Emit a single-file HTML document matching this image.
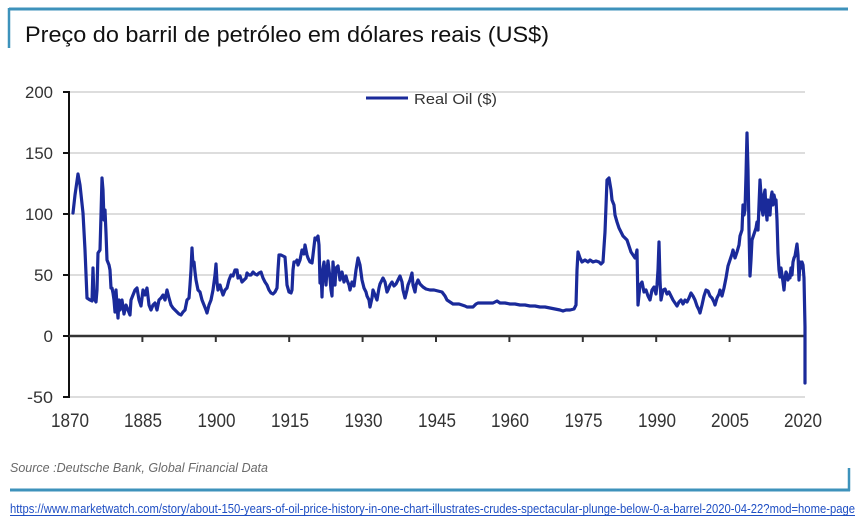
<!DOCTYPE html>
<html><head><meta charset="utf-8"><style>
html,body{margin:0;padding:0;background:#fff;}
svg{display:block;}
</style></head><body>
<svg width="861" height="523" viewBox="0 0 861 523" xmlns="http://www.w3.org/2000/svg">
<rect width="861" height="523" fill="#fff"/>
<!-- frame -->
<line x1="9" y1="9" x2="848" y2="9" stroke="#3d92bb" stroke-width="3"/>
<line x1="9" y1="8" x2="9" y2="48" stroke="#3d92bb" stroke-width="2.5"/>
<line x1="10" y1="490" x2="850" y2="490" stroke="#3d92bb" stroke-width="3"/>
<line x1="849" y1="468" x2="849" y2="491" stroke="#3d92bb" stroke-width="2.5"/>
<!-- title -->
<text x="25" y="42" font-family="Liberation Sans, sans-serif" font-size="22" fill="#111" textLength="524" lengthAdjust="spacingAndGlyphs">Preço do barril de petróleo em dólares reais (US$)</text>
<!-- gridlines -->
<g stroke="#dddddd" stroke-width="2">
<line x1="70" y1="92" x2="805" y2="92"/>
<line x1="70" y1="153" x2="805" y2="153"/>
<line x1="70" y1="214" x2="805" y2="214"/>
<line x1="70" y1="275" x2="805" y2="275"/>
<line x1="70" y1="397" x2="805" y2="397"/>
</g>
<!-- legend -->
<line x1="366" y1="98" x2="408" y2="98" stroke="#1a2a9a" stroke-width="3"/>
<text x="414" y="104" font-family="Liberation Sans, sans-serif" font-size="15" fill="#333" textLength="83" lengthAdjust="spacingAndGlyphs">Real Oil ($)</text>
<!-- axes -->
<line x1="69" y1="91" x2="69" y2="398" stroke="#111" stroke-width="2"/>
<g stroke="#111" stroke-width="2">
<line x1="63" y1="92" x2="69" y2="92"/>
<line x1="63" y1="153" x2="69" y2="153"/>
<line x1="63" y1="214" x2="69" y2="214"/>
<line x1="63" y1="275" x2="69" y2="275"/>
<line x1="63" y1="336" x2="69" y2="336"/>
<line x1="63" y1="397" x2="69" y2="397"/>
</g>
<line x1="69" y1="336" x2="805" y2="336" stroke="#333" stroke-width="2.5"/>
<g stroke="#333" stroke-width="2">
<line x1="142.4" y1="336" x2="142.4" y2="342"/>
<line x1="215.8" y1="336" x2="215.8" y2="342"/>
<line x1="289.2" y1="336" x2="289.2" y2="342"/>
<line x1="362.6" y1="336" x2="362.6" y2="342"/>
<line x1="436" y1="336" x2="436" y2="342"/>
<line x1="509.4" y1="336" x2="509.4" y2="342"/>
<line x1="582.8" y1="336" x2="582.8" y2="342"/>
<line x1="656.2" y1="336" x2="656.2" y2="342"/>
<line x1="729.6" y1="336" x2="729.6" y2="342"/>
</g>
<!-- y labels -->
<g font-family="Liberation Sans, sans-serif" font-size="17" fill="#333" text-anchor="end">
<text x="53" y="98" textLength="28" lengthAdjust="spacingAndGlyphs">200</text>
<text x="53" y="159" textLength="28" lengthAdjust="spacingAndGlyphs">150</text>
<text x="53" y="220" textLength="28" lengthAdjust="spacingAndGlyphs">100</text>
<text x="53" y="281" textLength="19" lengthAdjust="spacingAndGlyphs">50</text>
<text x="53" y="342">0</text>
<text x="53" y="403" textLength="26" lengthAdjust="spacingAndGlyphs">-50</text>
</g>
<!-- x labels -->
<g font-family="Liberation Sans, sans-serif" font-size="19" fill="#333" text-anchor="middle">
<text x="70" y="427" textLength="38" lengthAdjust="spacingAndGlyphs">1870</text>
<text x="143" y="427" textLength="38" lengthAdjust="spacingAndGlyphs">1885</text>
<text x="216.5" y="427" textLength="38" lengthAdjust="spacingAndGlyphs">1900</text>
<text x="290" y="427" textLength="38" lengthAdjust="spacingAndGlyphs">1915</text>
<text x="363.5" y="427" textLength="38" lengthAdjust="spacingAndGlyphs">1930</text>
<text x="437" y="427" textLength="38" lengthAdjust="spacingAndGlyphs">1945</text>
<text x="510" y="427" textLength="38" lengthAdjust="spacingAndGlyphs">1960</text>
<text x="583.5" y="427" textLength="38" lengthAdjust="spacingAndGlyphs">1975</text>
<text x="657" y="427" textLength="38" lengthAdjust="spacingAndGlyphs">1990</text>
<text x="730" y="427" textLength="38" lengthAdjust="spacingAndGlyphs">2005</text>
<text x="803" y="427" textLength="38" lengthAdjust="spacingAndGlyphs">2020</text>
</g>
<!-- series -->
<polyline fill="none" stroke="#1a2a9a" stroke-width="3.2" stroke-linejoin="round" stroke-linecap="round" points="
73,213 75,195 78,174 80,185 83,213 85,250 87,298 90,300 92,301 93,268 94,298 96,302 97,290 98,253 100,250 101,215 102,178 103,190 104,220 105,210 106,233 107,260 109,265 110,270 111,288 112,288 113,293 114,300 115,312 116,290 117,305 118,318 119,300 120,310 122,300 124,314 126,305 128,310 130,315 131,300 133,295 135,290 137,288 139,300 141,306 143,290 145,295 147,288 149,305 151,310 153,305 155,303 157,310 159,300 161,298 163,295 165,300 167,290 169,298 171,305 173,308 175,310 177,312 179,314 181,315 183,312 185,310 187,300 189,298 190,285 191,270 192,248 193,265 194,262 195,272 196,280 198,290 200,292 202,300 204,305 206,310 207,313 209,305 211,300 213,290 215,275 216,264 217,282 218,290 220,285 222,292 223,295 225,290 227,288 229,280 231,275 233,276 235,270 237,270 238,278 240,276 242,282 244,280 246,278 247,273 249,275 251,275 253,272 255,274 257,275 259,273 261,272 263,278 265,282 267,285 269,290 271,293 273,294 275,292 277,288 278,270 279,255 281,255 283,256 285,257 286,270 287,285 289,292 291,293 292,290 293,270 294,262 296,262 297,260 298,265 300,260 302,250 304,254 305,245 307,255 308,258 310,262 312,263 313,255 315,238 316,240 318,236 319,245 320,283 321,270 322,297 323,268 324,262 326,285 327,270 328,261 330,278 331,290 332,296 333,262 334,275 335,285 336,268 338,266 340,280 342,272 344,282 346,276 347,280 349,285 350,290 352,282 354,286 356,270 358,258 360,265 362,280 364,288 366,292 367,296 369,300 370,307 372,298 373,290 375,295 377,300 379,288 380,284 382,280 383,278 385,282 387,292 388,290 390,285 392,282 394,286 396,284 398,280 400,276 402,282 403,290 405,298 407,290 408,285 410,280 412,273 413,285 415,292 416,285 418,280 420,284 423,287 426,289 430,290 434,290 438,291 442,292 445,296 447,300 450,302 453,304 456,304 459,304 462,305 465,306 467,307 470,307 473,307 476,304 478,303 482,303 486,303 490,303 493,303 495,302 497,301 500,303 505,303 510,304 515,304 520,305 525,305 530,306 535,306 540,307 545,307 550,308 555,309 560,310 563,311 566,310 570,310 574,309 576,305 577,270 578,252 580,258 582,262 585,260 588,262 590,260 593,262 596,261 599,262 601,264 603,262 605,232 607,180 609,178 611,190 612,200 614,205 615,215 617,222 619,228 621,232 623,236 625,238 627,240 629,246 631,252 633,255 635,258 636,255 637,250 638,305 640,285 642,282 644,292 646,290 648,296 650,300 652,290 654,287 656,294 657,285 658,270 659,242 660,280 661,300 663,290 665,289 667,294 669,292 671,296 673,300 675,303 677,306 679,302 681,300 683,304 685,300 687,302 689,298 691,293 693,296 695,300 697,306 699,310 700,313 702,305 704,296 706,290 708,291 710,296 712,298 714,302 715,305 717,298 719,294 720,290 722,296 724,288 726,278 728,266 730,260 732,254 733,250 735,258 737,252 739,245 740,236 742,230 743,205 744,215 745,210 746,175 747,133 748,170 749,230 750,276 751,260 752,240 754,234 756,228 757,222 758,230 759,205 760,180 761,195 762,210 763,215 764,195 765,190 766,210 767,220 768,200 769,205 770,215 771,198 772,192 773,205 774,195 775,200 776,200 777,220 778,253 779,270 780,277 781,268 782,275 783,282 784,290 785,278 786,272 787,274 788,280 789,276 790,278 791,268 792,275 793,262 794,258 795,256 796,250 797,244 798,255 799,280 800,262 801,268 802,262 803,265 804,278 805,327 805,383"/>
<!-- source -->
<text x="10" y="472" font-family="Liberation Sans, sans-serif" font-size="13" font-style="italic" fill="#6a6a6a" textLength="258" lengthAdjust="spacingAndGlyphs">Source :Deutsche Bank, Global Financial Data</text>
<!-- url -->
<text x="10" y="513" font-family="Liberation Sans, sans-serif" font-size="12.5" fill="#1f4fc4" textLength="845" lengthAdjust="spacingAndGlyphs">https://www.marketwatch.com/story/about-150-years-of-oil-price-history-in-one-chart-illustrates-crudes-spectacular-plunge-below-0-a-barrel-2020-04-22?mod=home-page</text>
<line x1="10" y1="515.5" x2="855" y2="515.5" stroke="#1f4fc4" stroke-width="1"/>
</svg>
</body></html>
